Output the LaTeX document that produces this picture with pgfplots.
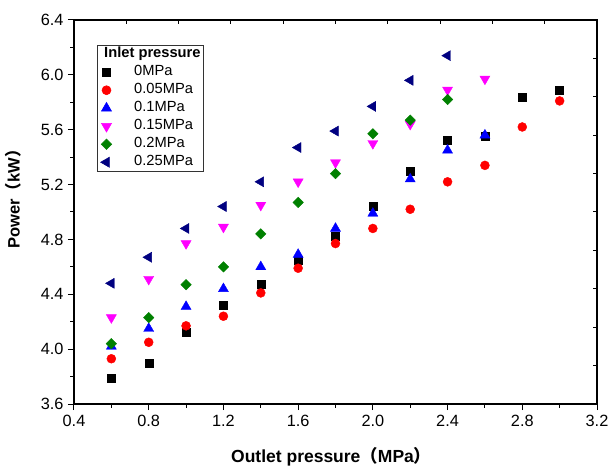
\documentclass[border=0pt]{standalone}
\usepackage{fontspec}
\setmainfont{Liberation Sans}
\newfontfamily\cjk{Noto Sans CJK SC}
\usepackage{pgfplots}
\pgfplotsset{compat=1.18}
\definecolor{dgreen}{RGB}{0,128,0}
\definecolor{navy}{RGB}{0,0,128}
\definecolor{mag}{RGB}{255,0,255}
\definecolor{pred}{RGB}{255,0,0}
\definecolor{pblue}{RGB}{0,0,255}
\begin{document}
\begin{tikzpicture}
\begin{axis}[
  at={(0,0)}, anchor=south west,
  scale only axis, width=523bp, height=384bp,
  xmin=0.4, xmax=3.2, ymin=3.6, ymax=6.4,
  xtick={0.4,0.8,1.2,1.6,2.0,2.4,2.8,3.2},
  ytick={3.6,4.0,4.4,4.8,5.2,5.6,6.0,6.4},
  minor tick num=1,
  tick pos=left, tick align=outside,
  major tick length=6bp, minor tick length=3.5bp,
  every tick/.style={black, line width=1bp},
  axis line style={line width=1.2bp},
  /pgf/number format/assume math mode=true,
  tick label style={font=\fontsize{16.3bp}{18bp}\selectfont},
  xticklabel style={yshift=-2bp, /pgf/number format/.cd, fixed, fixed zerofill, precision=1},
  yticklabel style={xshift=-1bp, /pgf/number format/.cd, fixed, fixed zerofill, precision=1},
  xlabel={Outlet pressure{\cjk （}MPa{\cjk ）}},
  ylabel={Power{\cjk （}kW{\cjk ）}},
  xlabel style={at={(axis description cs:0.492,-0.1536)}, anchor=base, font=\bfseries\fontsize{17.5bp}{20bp}\selectfont},
  ylabel style={at={(axis description cs:-0.1042,0.544)}, anchor=base, font=\bfseries\fontsize{16.5bp}{20bp}\selectfont},
  legend cell align=left,
  legend style={at={(axis description cs:0.0434,0.9357)}, anchor=north west,
    draw=black!80, line width=0.6bp,
    font=\fontsize{14.7bp}{16bp}\selectfont,
    inner sep=1bp, row sep=1.5bp, column sep=21bp,
    nodes={inner sep=1.5bp, text height=10.5bp, text depth=3bp}},
]
\addlegendimage{empty legend}
\addlegendentry{\hspace{-30bp}\textbf{Inlet pressure}}
\addplot[only marks, mark=square*, mark size=4bp, mark options={draw=black, fill=black}] coordinates {
(0.6,3.79) (0.8,3.90) (1.0,4.12) (1.2,4.32) (1.4,4.47) (1.6,4.65) (1.8,4.82) (2.0,5.04) (2.2,5.30) (2.4,5.52) (2.6,5.55) (2.8,5.84) (3.0,5.89)};
\addlegendentry{0MPa}
\addplot[only marks, mark=*, mark size=4.5bp, mark options={draw=pred, fill=pred}] coordinates {
(0.6,3.93) (0.8,4.05) (1.0,4.17) (1.2,4.24) (1.4,4.41) (1.6,4.59) (1.8,4.77) (2.0,4.88) (2.2,5.02) (2.4,5.22) (2.6,5.34) (2.8,5.62) (3.0,5.81)};
\addlegendentry{0.05MPa}
\addplot[only marks, mark=triangle*, mark size=5.8bp, mark options={draw=pblue, fill=pblue}] coordinates {
(0.6,4.02) (0.8,4.15) (1.0,4.31) (1.2,4.44) (1.4,4.60) (1.6,4.69) (1.8,4.88) (2.0,4.99) (2.2,5.24) (2.4,5.45) (2.6,5.56)};
\addlegendentry{0.1MPa}
\addplot[only marks, mark=triangle*, mark size=5.8bp, mark options={rotate=180, draw=mag, fill=mag}] coordinates {
(0.6,4.23) (0.8,4.51) (1.0,4.77) (1.2,4.89) (1.4,5.05) (1.6,5.22) (1.8,5.36) (2.0,5.50) (2.2,5.64) (2.4,5.89) (2.6,5.97)};
\addlegendentry{0.15MPa}
\addplot[only marks, mark=square*, mark size=3.7bp, mark options={rotate=45, draw=dgreen, fill=dgreen}] coordinates {
(0.6,4.04) (0.8,4.23) (1.0,4.47) (1.2,4.60) (1.4,4.84) (1.6,5.07) (1.8,5.28) (2.0,5.57) (2.2,5.67) (2.4,5.82)};
\addlegendentry{0.2MPa}
\addplot[only marks, mark=triangle*, mark size=5.8bp, mark options={rotate=90, draw=navy, fill=navy}] coordinates {
(0.6,4.48) (0.8,4.67) (1.0,4.88) (1.2,5.04) (1.4,5.22) (1.6,5.47) (1.8,5.59) (2.0,5.77) (2.2,5.96) (2.4,6.14)};
\addlegendentry{0.25MPa}
\end{axis}
\begin{axis}[
  at={(0,0)}, anchor=south west,
  scale only axis, width=523bp, height=384bp,
  xmin=0.4, xmax=3.2, ymin=3.6, ymax=6.4,
  axis line style={draw=none},
  xtick pos=right, ytick pos=right, tick align=inside,
  xtick={0.68,0.96,1.24,1.52,1.80,2.08,2.36,2.64,2.92},
  ytick={3.88,4.16,4.44,4.72,5.00,5.28,5.56,5.84,6.12},
  xticklabels={}, yticklabels={},
  major tick length=4.5bp,
  every tick/.style={black, line width=1bp},
]
\end{axis}
\pgfresetboundingbox
\path[use as bounding box] (-74bp,-63bp) rectangle (536bp,404bp);
\end{tikzpicture}
\end{document}
